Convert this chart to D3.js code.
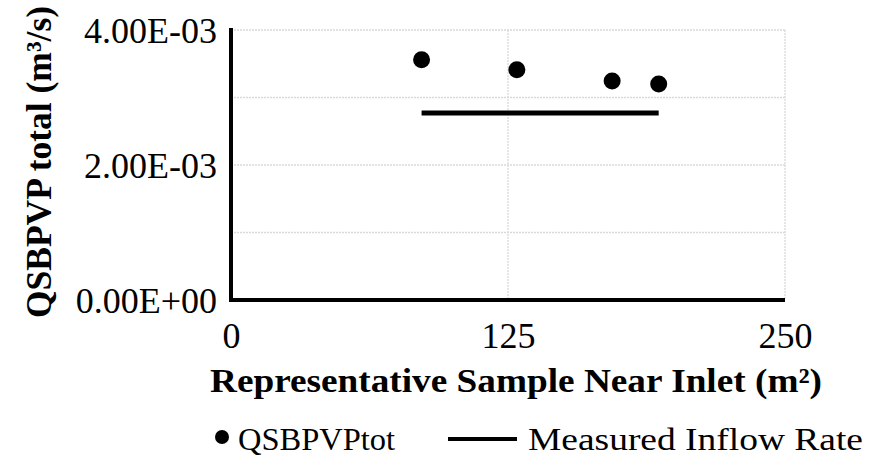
<!DOCTYPE html>
<html>
<head>
<meta charset="utf-8">
<script src="https://cdn.jsdelivr.net/npm/d3@7"></script>
<style>
  body { margin: 0; background: #fff; }
  text { font-family: "Liberation Serif", "Times New Roman", serif; fill: #000; }
</style>
</head>
<body>
<script>
// values
var sampleArea = [86, 129, 172, 193];
var qsbpvpTot = [3.56e-3, 3.41e-3, 3.245e-3, 3.2e-3];
var inflowX = [86, 193];
var inflowY = [2.77e-3, 2.77e-3];
var xTicks = [0, 125, 250];
var yTicks = [0, 2e-3, 4e-3];
var yGrid = [1e-3, 2e-3, 3e-3, 4e-3];

var width = 870, height = 457;
var plotLeft = 231, plotRight = 785, plotTop = 30, plotBottom = 300;

var svg = d3.select("body").append("svg")
	.attr("width", width)
	.attr("height", height);

var x = d3.scaleLinear().domain([0, 250]).range([plotLeft, plotRight]);
var y = d3.scaleLinear().domain([0, 4e-3]).range([plotBottom, plotTop]);

// grid
svg.append("g").selectAll("line")
	.data(yGrid)
	.enter().append("line")
	.attr("x1", plotLeft).attr("x2", plotRight)
	.attr("y1", function(d) { return y(d); })
	.attr("y2", function(d) { return y(d); })
	.attr("stroke", "#d9d9d9")
	.attr("stroke-width", 1.3)
	.attr("stroke-dasharray", "2,1");

svg.append("g").selectAll("line")
	.data(xTicks.slice(1))
	.enter().append("line")
	.attr("y1", plotTop).attr("y2", plotBottom)
	.attr("x1", function(d) { return x(d); })
	.attr("x2", function(d) { return x(d); })
	.attr("stroke", "#d9d9d9")
	.attr("stroke-width", 1.3)
	.attr("stroke-dasharray", "2,1");

// measured inflow line
var line = d3.line()
	.x(function(d, i) { return x(inflowX[i]); })
	.y(function(d) { return y(d); });

svg.append("path")
	.datum(inflowY)
	.attr("d", line)
	.attr("fill", "none")
	.attr("stroke", "#000")
	.attr("stroke-width", 5);

// points
svg.append("g").selectAll("circle")
	.data(qsbpvpTot)
	.enter().append("circle")
	.attr("cx", function(d, i) { return x(sampleArea[i]); })
	.attr("cy", function(d) { return y(d); })
	.attr("r", 8.5)
	.attr("fill", "#000");

// axes
var xAxis = svg.append("g")
	.attr("transform", "translate(0," + plotBottom + ")")
	.call(d3.axisBottom(x).tickValues(xTicks).tickSize(0).tickPadding(48).tickFormat(d3.format("d")));
xAxis.select(".domain").attr("stroke", "#000").attr("stroke-width", 4).attr("d", "M" + (plotLeft - 2) + ",0H" + plotRight);
xAxis.selectAll("text").style("font-size", "36px").attr("dy", "0");

var yAxis = svg.append("g")
	.attr("transform", "translate(" + plotLeft + ",0)")
	.call(d3.axisLeft(y).tickValues(yTicks).tickSize(0).tickPadding(14)
		.tickFormat(function(d) { return d.toExponential(2).toUpperCase().replace(/E([+-])(\d)$/, "E$10$2"); }));
yAxis.select(".domain").attr("stroke", "#000").attr("stroke-width", 4).attr("d", "M0," + (plotTop - 2) + "V" + (plotBottom + 2));
yAxis.selectAll("text").style("font-size", "36px").attr("dy", "0.36em");

// axis titles
svg.append("text")
	.attr("x", 516).attr("y", 392)
	.attr("text-anchor", "middle")
	.attr("textLength", 612)
	.attr("lengthAdjust", "spacingAndGlyphs")
	.style("font-size", "34px")
	.style("font-weight", "bold")
	.text("Representative Sample Near Inlet (m²)");

svg.append("text")
	.attr("transform", "translate(51,162) rotate(-90)")
	.attr("text-anchor", "middle")
	.attr("textLength", 312)
	.attr("lengthAdjust", "spacingAndGlyphs")
	.style("font-size", "35px")
	.style("font-weight", "bold")
	.text("QSBPVP total (m³/s)");

// legend
var legend = svg.append("g");
legend.append("circle")
	.attr("cx", 222).attr("cy", 437).attr("r", 7)
	.attr("fill", "#000");
legend.append("text")
	.attr("x", 238).attr("y", 450)
	.attr("textLength", 157)
	.attr("lengthAdjust", "spacingAndGlyphs")
	.style("font-size", "32px")
	.text("QSBPVPtot");
legend.append("line")
	.attr("x1", 448).attr("x2", 517)
	.attr("y1", 439).attr("y2", 439)
	.attr("stroke", "#000")
	.attr("stroke-width", 4);
legend.append("text")
	.attr("x", 528).attr("y", 450)
	.attr("textLength", 335)
	.attr("lengthAdjust", "spacingAndGlyphs")
	.style("font-size", "32px")
	.text("Measured Inflow Rate");
</script>
</body>
</html>
